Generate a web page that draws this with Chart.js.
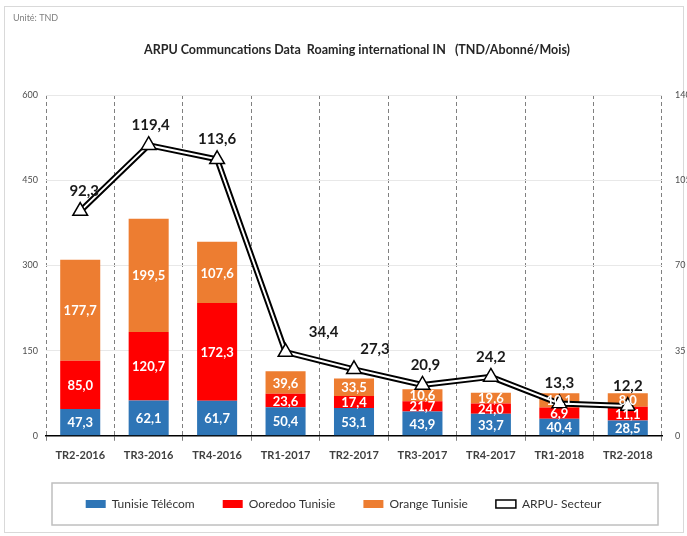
<!DOCTYPE html>
<html>
<head>
<meta charset="utf-8">
<title>ARPU Roaming international IN</title>
<script src="https://cdn.jsdelivr.net/npm/chart.js@4.4.1/dist/chart.umd.min.js"></script>
<style>
    html, body { margin: 0; padding: 0; background: #fff; }
    #wrap { width: 687px; height: 536px; position: relative; }
</style>
</head>
<body>
<div id="wrap"><canvas id="arpuChart"></canvas></div>
<script>
// Données (TND/Abonné/Mois)
const trimestres = ['TR2-2016', 'TR3-2016', 'TR4-2016', 'TR1-2017', 'TR2-2017', 'TR3-2017', 'TR4-2017', 'TR1-2018', 'TR2-2018'];
// valeurs affichées dans les barres
const tunisieTelecom = [47.3, 62.1, 61.7, 50.4, 53.1, 43.9, 33.7, 40.4, 28.5];
const ooredooTunisie = [85.0, 120.7, 172.3, 23.6, 17.4, 21.7, 24.0, 6.9, 11.1];
const orangeTunisie = [177.7, 199.5, 107.6, 39.6, 33.5, 10.6, 19.6, 10.1, 8.0];
// hauteurs des segments telles que dessinées sur le graphique d'origine
const hauteurTT = [47.3, 62.1, 61.7, 50.4, 49, 43, 39, 30, 27];
const hauteurOoredoo = [85.0, 120.7, 172.3, 23.6, 21, 18, 18, 20, 24];
const hauteurOrange = [177.7, 199.5, 107.6, 39.6, 31, 21, 19, 25, 24];
const arpuSecteur = [92.3, 119.4, 113.6, 34.4, 27.3, 20.9, 24.2, 13.3, 12.2];
const ticksGauche = [0, 150, 300, 450, 600];
const ticksDroite = [0, 35, 70, 105, 140];

const police = 'Lato, "Open Sans", sans-serif';
Chart.defaults.font.family = police;

// décalage horizontal des étiquettes ARPU (px)
const decalageArpu = [4, 2, 0, 38, 21, 3, 0, 0, 0];

function virgule(v) {
    return v.toFixed(1).replace('.', ',');
}

// Titre + unité en haut
const entete = {
    id: 'entete',
    beforeDraw(chart) {
        const ctx = chart.ctx;
        ctx.save();
        ctx.fillStyle = '#fff';
        ctx.fillRect(0, 0, chart.width, chart.height);
        ctx.strokeStyle = '#d9d9d9';
        ctx.lineWidth = 1;
        ctx.strokeRect(4.5, 6.5, chart.width - 8, chart.height - 10);
        ctx.fillStyle = '#808080';
        ctx.font = '9px ' + police;
        ctx.textBaseline = 'middle';
        ctx.fillText('Unité: TND', 13, 18);
        ctx.fillStyle = '#262626';
        ctx.font = 'bold 12.5px ' + police;
        ctx.textAlign = 'center';
        const a = chart.chartArea;
        ctx.fillText('ARPU Communcations Data  Roaming international IN   (TND/Abonné/Mois)', (a.left + a.right) / 2 + 3, 50);
        ctx.restore();
    }
};

// Etiquettes de valeurs + cadre de la légende
const etiquettes = {
    id: 'etiquettes',
    afterDraw(chart) {
        const ctx = chart.ctx;
        ctx.save();
        ctx.textAlign = 'center';
        ctx.textBaseline = 'middle';
        chart.data.datasets.forEach((ds, i) => {
            if (!ds.etiquettes) return;
            const meta = chart.getDatasetMeta(i);
            meta.data.forEach((el, j) => {
                const v = ds.etiquettes[j];
                if (ds.type !== 'line') {
                    ctx.fillStyle = '#fff';
                    ctx.font = 'bold 13px ' + police;
                    ctx.fillText(virgule(v), el.x, (el.y + el.base) / 2 + 1);
                } else {
                    ctx.fillStyle = '#1a1a1a';
                    ctx.font = 'bold 15px ' + police;
                    ctx.fillText(virgule(v), el.x + decalageArpu[j], el.y - 20);
                }
            });
        });
        // cadre autour de la légende
        const lg = chart.legend;
        if (lg && lg.legendHitBoxes.length) {
            const hb = lg.legendHitBoxes[0];
            const cy = hb.top + hb.height / 2;
            const a = chart.chartArea;
            ctx.strokeStyle = '#bfbfbf';
            ctx.lineWidth = 1.5;
            ctx.strokeRect(a.left + 6, cy - 21, a.right - a.left - 10, 42);
        }
        ctx.restore();
    }
};

const ctx = document.getElementById('arpuChart').getContext('2d');
const arpuChart = new Chart(ctx, {
    type: 'bar',
    data: {
        labels: trimestres,
        datasets: [
            {
                label: 'Tunisie Télécom',
                data: hauteurTT,
                etiquettes: tunisieTelecom,
                backgroundColor: '#2E75B6',
                order: 2
            },
            {
                label: 'Ooredoo Tunisie',
                data: hauteurOoredoo,
                etiquettes: ooredooTunisie,
                backgroundColor: '#FF0000',
                order: 2
            },
            {
                label: 'Orange Tunisie',
                data: hauteurOrange,
                etiquettes: orangeTunisie,
                backgroundColor: '#ED7D31',
                order: 2
            },
            {
                // trait noir extérieur
                type: 'line',
                label: 'ARPU- Secteur',
                data: arpuSecteur,
                yAxisID: 'y1',
                borderColor: '#000',
                backgroundColor: '#fff',
                borderWidth: 6,
                pointRadius: 0,
                tension: 0,
                order: 1
            },
            {
                // trait blanc intérieur + triangles
                type: 'line',
                label: 'ARPU interne',
                data: arpuSecteur,
                etiquettes: arpuSecteur,
                yAxisID: 'y1',
                borderColor: '#fff',
                borderWidth: 2,
                pointStyle: 'triangle',
                pointRadius: 8.5,
                pointBackgroundColor: '#fff',
                pointBorderColor: '#000',
                pointBorderWidth: 1.5,
                tension: 0,
                cacher: true,
                order: 0
            }
        ]
    },
    options: {
        responsive: true,
        maintainAspectRatio: false,
        animation: false,
        layout: {
            padding: { top: 95, bottom: 16, left: 0, right: 0 }
        },
        datasets: {
            bar: { categoryPercentage: 0.585, barPercentage: 1 }
        },
        plugins: {
            title: { display: false },
            tooltip: { enabled: false },
            legend: {
                position: 'bottom',
                labels: {
                    color: '#333',
                    font: { size: 12 },
                    boxWidth: 20,
                    boxHeight: 8,
                    padding: 28,
                    sort: (a, b) => a.datasetIndex - b.datasetIndex,
                    filter: (item, data) => !data.datasets[item.datasetIndex].cacher,
                    generateLabels(chart) {
                        const items = Chart.defaults.plugins.legend.labels.generateLabels(chart);
                        items.forEach(it => {
                            if (it.datasetIndex === 3) {
                                it.lineWidth = 1.5;
                                it.fillStyle = '#fff';
                                it.strokeStyle = '#000';
                            }
                        });
                        return items;
                    }
                }
            }
        },
        scales: {
            x: {
                stacked: true,
                grid: {
                    offset: true,
                    color: '#808080',
                    lineWidth: 1,
                    drawTicks: true,
                    tickLength: 5
                },
                border: { color: '#000', width: 1.5, dash: [4, 3] },
                ticks: {
                    color: '#404040',
                    font: { size: 11, weight: 'bold' },
                    padding: 8,
                    maxRotation: 0
                }
            },
            y: {
                stacked: true,
                min: ticksGauche[0],
                max: ticksGauche[ticksGauche.length - 1],
                afterBuildTicks: s => { s.ticks = ticksGauche.map(v => ({ value: v })); },
                afterFit: s => { s.width = 46; },
                grid: { color: '#e8e8e8', drawTicks: false },
                border: { display: false },
                ticks: { color: '#4d4d4d', font: { size: 9 }, padding: 8 }
            },
            y1: {
                position: 'right',
                min: ticksDroite[0],
                max: ticksDroite[ticksDroite.length - 1],
                afterBuildTicks: s => { s.ticks = ticksDroite.map(v => ({ value: v })); },
                afterFit: s => { s.width = 25; },
                grid: { display: false, drawTicks: false },
                border: { display: false },
                ticks: { color: '#4d4d4d', font: { size: 9 }, padding: 13 }
            }
        }
    },
    plugins: [entete, etiquettes]
});
</script>
</body>
</html>
